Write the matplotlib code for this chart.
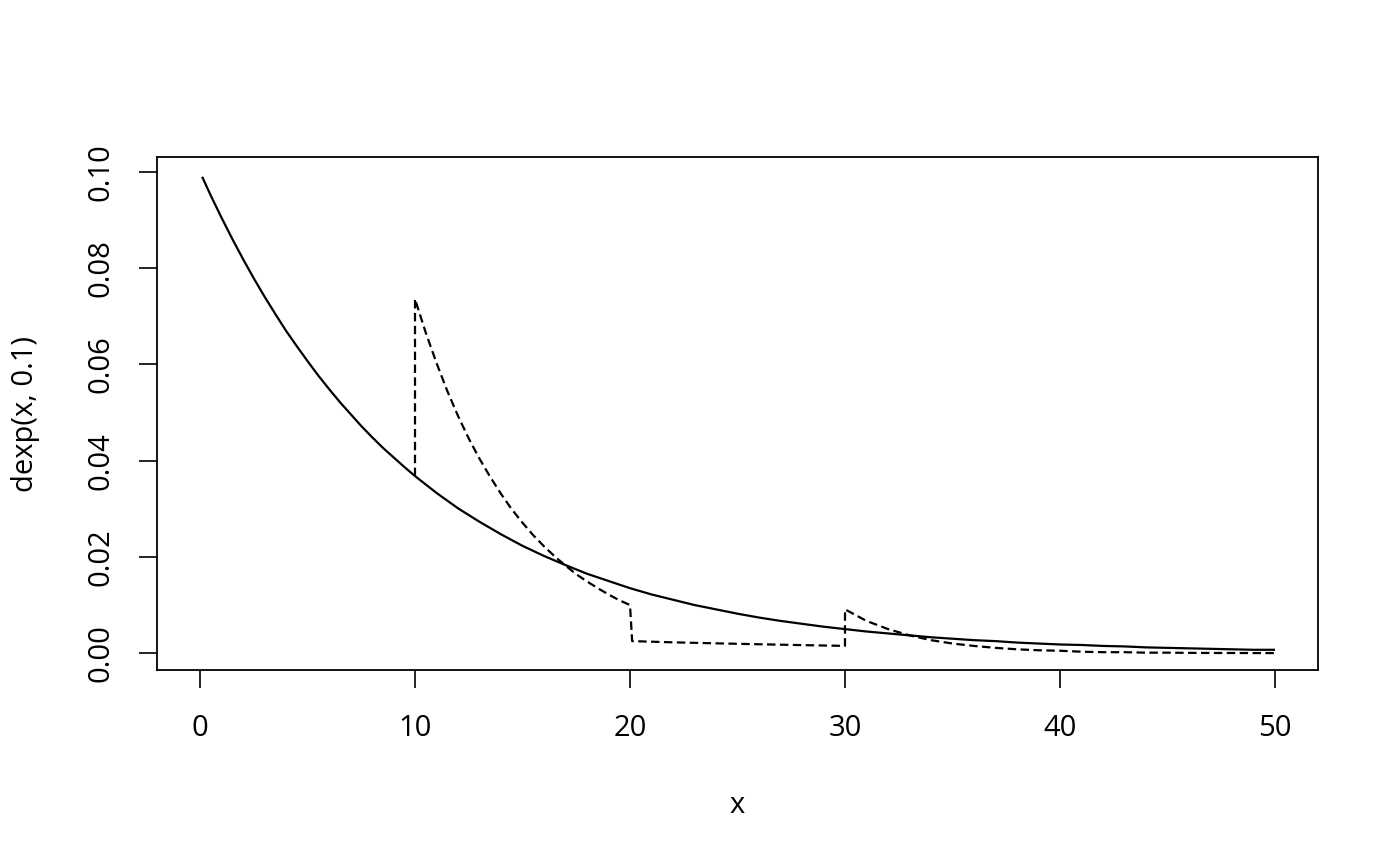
import matplotlib
matplotlib.use("Agg")
import matplotlib.pyplot as plt

# Solid curve: dexp(x, 0.1)
solid_x = [0.1, 0.5, 1, 1.5, 2, 2.5, 3, 3.5, 4, 4.5, 5, 5.5, 6, 6.5, 7, 7.5, 8, 8.5, 9, 9.5] + list(range(10, 51))
solid_y = [0.0990, 0.0951, 0.0905, 0.0861, 0.0819, 0.0779, 0.0741, 0.0705, 0.0670, 0.0638,
           0.0607, 0.0577, 0.0549, 0.0522, 0.0497, 0.0472, 0.0449, 0.0427, 0.0407, 0.0387,
           0.0368, 0.0333, 0.0301, 0.0273, 0.0247, 0.0223, 0.0202, 0.0183, 0.0165, 0.0150,
           0.0135, 0.0122, 0.0111, 0.0100, 0.0091, 0.0082, 0.0074, 0.0067, 0.0061, 0.0055,
           0.0050, 0.0045, 0.0041, 0.0037, 0.0033, 0.0030, 0.0027, 0.0025, 0.0022, 0.0020,
           0.0018, 0.0017, 0.0015, 0.0014, 0.0012, 0.0011, 0.0010, 0.0009, 0.0008, 0.0007,
           0.0007]

# Dashed curve (piecewise)
dash_x = [10.0, 10.0, 10.5, 11.0, 11.5, 12.0, 12.5, 13.0, 13.5, 14.0, 14.5, 15.0, 15.5,
          16.0, 16.5, 17.0, 17.5, 18.0, 18.5, 19.0, 19.5, 20.0,
          20.1, 22.0, 24.0, 26.0, 28.0, 30.0,
          30.0, 31.0, 32.0, 33.0, 34.0, 35.0, 36.0, 37.0, 38.0, 39.0, 40.0,
          41.0, 42.0, 43.0, 44.0, 45.0, 46.0, 47.0, 48.0, 49.0, 50.0]
dash_y = [0.0368, 0.0736, 0.0666, 0.0603, 0.0545, 0.0493, 0.0446, 0.0404, 0.0366, 0.0331,
          0.0299, 0.0271, 0.0245, 0.0222, 0.0201, 0.0182, 0.0164, 0.0149, 0.0135, 0.0122,
          0.0110, 0.0100,
          0.0025, 0.00225, 0.00204, 0.00185, 0.00167, 0.00151,
          0.0091, 0.0067, 0.0050, 0.0037, 0.0027, 0.0020, 0.0015, 0.0011, 0.0008, 0.0006,
          0.0005, 0.0003, 0.0002, 0.0002, 0.0001, 0.0001, 0.00006, 0.00004, 0.00003,
          0.00002, 0.00002]

x_ticks = [0, 10, 20, 30, 40, 50]
y_ticks = [0.00, 0.02, 0.04, 0.06, 0.08, 0.10]
y_tick_labels = ["0.00", "0.02", "0.04", "0.06", "0.08", "0.10"]

plt.rcParams['font.family'] = ['Open Sans', 'DejaVu Sans']

fig = plt.figure(figsize=(14, 8.66), dpi=100)
ax = fig.add_axes([157/1400, 1 - 670/866, (1318-157)/1400, (670-157)/866])

ax.plot(solid_x, solid_y, color='black', lw=1.6, solid_capstyle='butt')
ln, = ax.plot(dash_x, dash_y, color='black', lw=1.6, dash_capstyle='butt')
ln.set_dashes((3.8, 2.0))

ax.set_xlim(-2, 52)
ax.set_ylim(-0.0035, 0.1031)
ax.set_xticks(x_ticks)
ax.set_xticklabels([str(t) for t in x_ticks])
ax.set_yticks(y_ticks)
ax.set_yticklabels(y_tick_labels, rotation=90, va='center')
ax.tick_params(axis='both', length=13, width=1.2, labelsize=21, color='black')
ax.tick_params(axis='x', pad=19)
ax.tick_params(axis='y', pad=17)
for s in ax.spines.values():
    s.set_linewidth(1.3)

ax.set_xlabel("x", fontsize=21, labelpad=34)
ax.set_ylabel("dexp(x, 0.1)", fontsize=21, labelpad=33)

fig.savefig("out.png", dpi=100)
